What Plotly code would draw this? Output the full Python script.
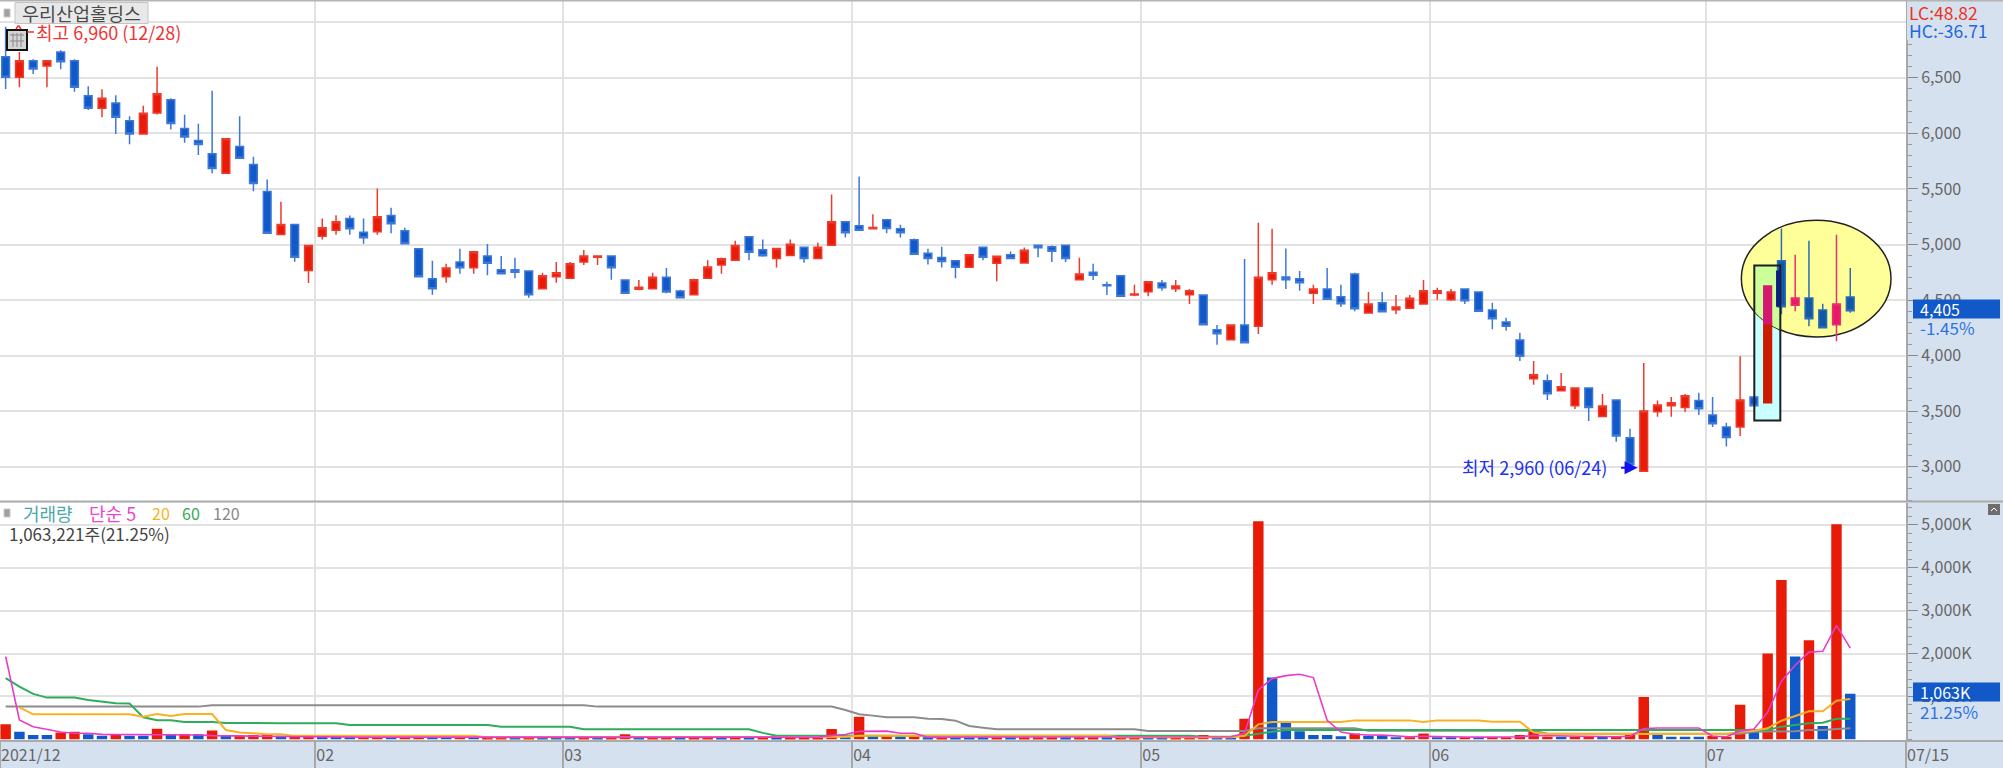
import numpy as np
import plotly.graph_objects as go

W, H = 2003, 768
FONT = "Noto Sans CJK KR"
RED, BLUE = "#E81A08", "#1158C8"
RED_LINE, BLUE_LINE = "#EE3A2A", "#3C78D8"
PANEL = "#D6E1EF"
GRID = "#E2E2E2"

open_p = [
 6690,6505,6655,6607,6733,6655,6340,6226,6274,6115,
 5995,6184,6304,6045,5937,5817,5642,5883,5720,5477,
 5090,5180,4766,5075,5129,5234,5110,5116,5261,5125,
 4963,4693,4711,4843,4792,4897,4774,4774,4762,4603,
 4711,4696,4843,4885,4897,4681,4597,4603,4705,4582,
 4549,4696,4816,4859,5069,4952,4874,4901,4976,4874,
 4994,5204,5168,5141,5222,5141,5042,4922,4883,4853,
 4796,4976,4832,4907,4834,4994,4979,4994,4684,4750,
 4639,4720,4546,4576,4654,4603,4549,4546,4234,4144,
 4276,4264,4684,4708,4693,4561,4600,4531,4735,4384,
 4477,4414,4426,4465,4561,4504,4600,4573,4411,4303,
 4141,3792,3774,3684,3549,3708,3453,3600,3261,2960,
 3495,3549,3534,3597,3465,3357,3357,3627,3576,4855,
 4453,4519,4411,4279,4528]
close_p = [
 6505,6655,6580,6655,6646,6415,6226,6316,6145,5995,
 6181,6357,6090,5967,5901,5684,5952,5777,5550,5102,
 5180,4886,4991,5150,5204,5143,5062,5249,5186,5008,
 4711,4603,4789,4792,4936,4831,4738,4750,4549,4720,
 4747,4828,4897,4897,4792,4561,4615,4705,4573,4522,
 4684,4798,4871,4991,4931,4898,4964,5003,4874,4976,
 5204,5105,5129,5153,5144,5105,4913,4874,4847,4796,
 4907,4886,4895,4874,4949,4970,4940,4874,4735,4723,
 4630,4534,4555,4666,4612,4627,4585,4279,4198,4276,
 4117,4705,4747,4684,4657,4600,4507,4468,4423,4465,
 4396,4438,4516,4585,4585,4573,4495,4399,4333,4264,
 3994,3828,3657,3720,3708,3534,3546,3276,3021,3501,
 3555,3576,3639,3522,3387,3264,3600,3549,4627,4441,
 4519,4333,4252,4465,4405]
high_p = [
 6960,6733,6667,6655,6748,6667,6424,6397,6343,6154,
 6250,6601,6316,6168,6087,6384,5952,6154,5790,5585,
 5384,5180,4991,5234,5264,5261,5234,5504,5330,5152,
 4963,4855,4828,4963,4936,5005,4897,4882,4762,4747,
 4843,4843,4951,4903,4897,4681,4681,4747,4789,4594,
 4693,4859,4883,5033,5069,5045,4964,5045,4976,5015,
 5450,5204,5612,5273,5222,5177,5054,4961,4979,4853,
 4907,4976,4895,4937,4973,4994,4991,4994,4882,4828,
 4666,4720,4639,4666,4681,4681,4600,4546,4276,4276,
 4870,5195,5141,4964,4762,4639,4789,4639,4747,4573,
 4573,4546,4546,4681,4612,4600,4600,4573,4477,4342,
 4207,3952,3831,3843,3708,3708,3654,3600,3342,3934,
 3597,3627,3654,3666,3627,3396,3994,3627,4627,5144,
 4909,5033,4468,5087,4789]
low_p = [
 6400,6415,6535,6415,6577,6376,6211,6145,5995,5902,
 5995,6171,6036,5916,5805,5642,5642,5777,5480,5102,
 5090,4844,4654,5045,5087,5089,5008,5089,5101,5008,
 4711,4549,4657,4738,4738,4723,4738,4696,4522,4603,
 4657,4696,4816,4816,4684,4561,4588,4603,4561,4522,
 4549,4696,4738,4859,4859,4889,4793,4901,4835,4874,
 4994,5063,5129,5141,5102,5063,4913,4820,4793,4696,
 4796,4859,4669,4874,4834,4885,4843,4843,4684,4681,
 4546,4534,4534,4534,4585,4573,4465,4279,4099,4144,
 4117,4195,4639,4600,4585,4465,4507,4438,4399,4384,
 4396,4372,4426,4465,4504,4492,4465,4399,4237,4225,
 3952,3738,3600,3684,3519,3411,3453,3225,2960,2960,
 3450,3450,3492,3465,3357,3183,3276,3549,3576,4372,
 4399,4264,4252,4129,4387]

volume_k = [
 348,177,100,100,160,177,115,85,115,85,
 85,247,115,115,115,208,85,85,100,115,
 85,75,75,68,68,55,55,55,55,50,
 50,50,50,50,50,45,45,45,45,45,
 45,45,45,45,45,115,45,45,45,45,
 45,45,45,45,45,45,45,45,45,45,
 240,50,528,85,85,85,85,45,45,45,
 45,45,45,45,45,45,45,45,45,45,
 45,45,45,45,45,45,45,100,40,40,
 480,5085,1439,387,185,100,100,70,138,85,
 85,50,50,138,50,50,50,50,50,50,
 100,185,60,60,60,60,60,60,130,988,
 130,60,60,60,85,60,808,185,1999,3713,
 1929,2311,309,5014,1063]
volume_dir = list(
 "rbbbrrbbrb" "brbrbrbrrr" "brrbbbrrbr" "rbbrbrrbrb"
 "bbrbrrbrrb" "rrbrbrbrrr" "rbrbrbrbrb" "bbrbrrrbrr"
 "brrbbrrrbb" "rrbbbbbbrb" "bbrrbbrbrr" "rrrbrrbrrr"
 "bbbbrrrbrr" "brbrb")
ma5 = [
 1930,450,294,232,170,140,140,115,115,100,
 100,115,115,115,100,85,85,85,75,70,
 65,60,60,55,55,50,50,50,50,50,
 50,50,50,50,50,50,50,50,50,50,
 50,50,50,50,50,62,62,62,62,62,
 50,50,50,50,50,50,50,50,50,50,
 85,110,185,190,190,140,140,50,50,50,
 50,50,50,50,50,50,50,50,50,50,
 50,50,50,50,50,50,50,60,60,60,
 138,1150,1415,1485,1515,1439,442,168,119,99,
 98,85,60,70,70,60,55,50,50,50,
 60,90,85,80,70,70,60,60,70,250,
 262,262,262,262,70,60,190,240,627,1353,
 1727,2032,2052,2655,2125]
ma20 = [
 None,746,582,582,582,582,582,582,582,582,
 528,590,543,590,590,590,216,160,140,120,
 120,80,80,80,80,80,80,80,80,80,
 80,80,80,80,80,45,45,45,45,45,
 45,45,45,45,45,45,45,45,45,45,
 45,45,45,45,45,45,45,45,45,45,
 60,60,85,85,85,85,85,85,85,85,
 85,85,85,85,85,85,85,85,85,85,
 85,50,50,50,50,50,50,50,50,50,
 80,348,403,403,403,403,403,403,441,441,
 441,441,441,403,441,441,441,441,410,410,
 410,160,125,125,125,125,125,125,125,125,
 125,125,125,125,125,125,169,200,255,434,
 543,652,652,901,940]
ma60 = [
 1424,1229,1058,972,972,972,917,886,839,832,
 512,442,442,403,403,403,380,375,375,375,
 375,375,375,375,375,334,334,334,334,334,
 334,334,334,334,334,334,295,295,295,295,
 295,295,232,232,232,232,232,232,232,232,
 232,232,232,232,232,150,85,85,85,85,
 85,85,85,85,85,85,85,85,85,85,
 85,85,85,85,85,85,85,85,85,85,
 85,85,85,85,85,85,85,60,60,60,
 83,138,177,216,216,216,216,216,216,216,
 216,216,216,216,216,200,200,200,200,200,
 200,200,200,200,200,200,200,200,200,200,
 200,200,200,200,200,200,200,200,216,293,
 333,372,387,480,480]
ma120 = [
 762,762,762,762,762,762,762,762,762,762,
 762,762,762,762,762,795,795,795,795,795,
 795,795,795,795,795,795,795,795,795,795,
 795,795,795,795,795,795,795,795,795,795,
 795,795,795,762,762,762,762,762,762,762,
 762,762,762,762,762,762,762,762,762,762,
 762,684,583,552,513,513,513,480,474,435,
 310,271,232,232,232,232,232,232,232,232,
 232,232,232,193,193,193,193,193,193,193,
 193,255,255,255,255,255,255,255,255,200,
 200,200,200,200,200,200,200,200,200,200,
 200,200,130,130,130,130,130,130,130,130,
 130,130,130,130,130,130,130,177,177,177,
 190,216,216,240,255]

month_pos = [-0.41, 22.5, 40.5, 61.5, 82.5, 103.5, 123.5, 138.05]
month_lab = ["2021/12", "02", "03", "04", "05", "06", "07", "07/15"]
price_ticks = [3000, 3500, 4000, 4500, 5000, 5500, 6000, 6500, 7000]
price_text = ["3,000", "3,500", "4,000", "4,500", "5,000", "5,500", "6,000", "6,500", ""]
vol_ticks = [1000, 2000, 3000, 4000, 5000]
vol_text = ["1,000K", "2,000K", "3,000K", "4,000K", "5,000K"]

n = len(close_p)
idx = list(range(n))
px = lambda v: v / W
py = lambda v: 1 - v / H
BW = 0.2  # layout box gap


def candle(ids, color, line, o=None, h=None, l=None, c=None):
    o = o or [open_p[i] for i in ids]
    c = c or [close_p[i] for i in ids]
    h = h or [high_p[i] for i in ids]
    l = l or [low_p[i] for i in ids]
    side = dict(fillcolor=color, line=dict(color=line, width=1.5))
    return go.Candlestick(x=ids, open=o, high=h, low=l, close=c, increasing=side, decreasing=side,
                          xaxis="x", yaxis="y", whiskerwidth=0, hoverinfo="skip", showlegend=False)


def split_candle(ids, color_up, line_up, color_dn, line_dn):
    out = []
    up = [i for i in ids if close_p[i] >= open_p[i]]
    dn = [i for i in ids if close_p[i] < open_p[i]]
    if up:
        out.append(candle(up, color_up, line_up))
    if dn:
        out.append(candle(dn, color_dn, line_dn))
    return out


SPLIT_128 = 4290
traces = []
traces += split_candle(idx[:128], RED, RED_LINE, BLUE, BLUE_LINE)
traces += split_candle([129, 130, 131, 132, 133, 134], "#E8186C", "#E8306F", "#1258A8", "#2A6CB4")
traces.append(candle([128], "#CC1C00", "#CC1C00", o=[open_p[128]], c=[SPLIT_128], h=[SPLIT_128], l=[open_p[128]]))
traces.append(candle([128], "#D4186F", "#D4186F", o=[SPLIT_128], c=[close_p[128]], h=[close_p[128]], l=[SPLIT_128]))

traces.append(go.Bar(x=idx, y=volume_k, width=0.76, xaxis="x2", yaxis="y2", hoverinfo="skip", showlegend=False,
                     marker=dict(color=[RED if d == "r" else BLUE for d in volume_dir], line=dict(width=0))))
for series, col, lw in ((ma120, "#8C8C8C", 2), (ma60, "#2EAD5B", 2), (ma20, "#F9B122", 2), (ma5, "#E83CC8", 1.6)):
    traces.append(go.Scatter(x=idx, y=series, mode="lines", line=dict(color=col, width=lw, shape="linear"),
                             xaxis="x2", yaxis="y2", hoverinfo="skip", showlegend=False))

fig = go.Figure(traces)

# highlight marks (drawn in data coordinates)
EL_X0, EL_X1, EL_Y0, EL_Y1 = 126.09, 136.96, 4168, 5219
RC_X0, RC_X1, RC_Y0, RC_Y1 = 127.03, 128.92, 3417, 4811
cx, cy, a, b = (EL_X0 + EL_X1) / 2, (EL_Y0 + EL_Y1) / 2, (EL_X1 - EL_X0) / 2, (EL_Y1 - EL_Y0) / 2
xs = np.linspace(RC_X0, RC_X1, 25)
ys = cy - b * np.sqrt(1 - ((xs - cx) / a) ** 2)
overlap = "M %f,%f " % (RC_X0, RC_Y1) + " ".join("L %f,%f" % (x, y) for x, y in zip(xs, ys)) + " L %f,%f Z" % (RC_X1, RC_Y1)

shapes = [
    dict(type="rect", xref="x", yref="y", x0=RC_X0, x1=RC_X1, y0=RC_Y0, y1=RC_Y1, fillcolor="#C8FFFF",
         line=dict(width=0), layer="between"),
    dict(type="circle", xref="x", yref="y", x0=EL_X0, x1=EL_X1, y0=EL_Y0, y1=EL_Y1, fillcolor="#FFFF99",
         line=dict(color="#222222", width=1.5), layer="between"),
    dict(type="path", xref="x", yref="y", path=overlap, fillcolor="#CCFF99", line=dict(width=0), layer="between"),
    dict(type="rect", xref="x", yref="y", x0=RC_X0, x1=RC_X1, y0=RC_Y0, y1=RC_Y1, fillcolor="rgba(0,0,0,0)",
         line=dict(color="#1E1E1E", width=2), layer="above"),
    dict(type="rect", xref="x", yref="y", x0=129 - 0.39, x1=RC_X1, y0=close_p[129], y1=RC_Y1 - 45, fillcolor="#0A2080",
         line=dict(width=0), layer="above"),
]


def rect_px(x0, x1, y0, y1, fill, line=None, lw=1):
    return dict(type="rect", xref="paper", yref="paper", x0=px(x0), x1=px(x1), y0=py(y1), y1=py(y0),
                fillcolor=fill, line=dict(color=line or fill, width=lw if line else 0), layer="above")


def line_px(x0, x1, y0, y1, col, lw=1):
    return dict(type="line", xref="paper", yref="paper", x0=px(x0), x1=px(x1), y0=py(y0), y1=py(y1),
                line=dict(color=col, width=lw), layer="above")


shapes += [
    rect_px(1907, 2003, 1, 40, PANEL),
    line_px(0, W, 0.5, 0.5, "#B4B4B4", 2),
    line_px(0, W, 501.5, 501.5, "#ABABAB", 2),
    line_px(0, W, 741, 741, "#ABABAB", 2),
    rect_px(1913, 2000, 299.5, 318.5, BLUE),
    rect_px(1913, 2000, 682.5, 701.5, BLUE),
    # title button and small squares
    rect_px(15, 148, 2.5, 23.5, "#E8E8E8", "#C4C4C4", 1),
    rect_px(4, 10, 9, 17, "#A0A0A0", "#C8C8C8", 1),
    rect_px(4, 10, 509, 517, "#A0A0A0", "#C8C8C8", 1),
    # table icon
    rect_px(7, 27, 30, 50, "#D4D4D4", "#111111", 2),
    line_px(10, 24, 35, 35, "#8A8A8A", 1),
    line_px(10, 24, 41, 41, "#8A8A8A", 1),
    line_px(13, 13, 33, 47, "#8A8A8A", 1),
    line_px(17, 17, 33, 47, "#8A8A8A", 1),
    line_px(21, 21, 33, 47, "#8A8A8A", 1),
    # high marker
    line_px(27, 34, 32, 32, "#F03030", 1.5),
    line_px(16, 18.5, 29, 25.5, "#F03030", 1.5),
    line_px(18.5, 21, 25.5, 29, "#F03030", 1.5),
    # panel button
    rect_px(1988, 2000, 504, 515, "#6E6E6E"),
    line_px(1991, 1994, 511, 508, "#FFFFFF", 1),
    line_px(1994, 1997, 508, 511, "#FFFFFF", 1),
]


def label(text, x, y, color, size=16, anchor="left"):
    return dict(text=text, xref="paper", yref="paper", x=px(x), y=py(y), xanchor=anchor, yanchor="middle",
                showarrow=False, font=dict(family=FONT, size=size, color=color), align="left")


annotations = [
    label("우리산업홀딩스", 20, 13, "#4A4A4A", 18.5),
    label("최고 6,960 (12/28)", 34, 32, "#F03434", 18),
    label("LC:48.82", 1907, 12, "#EE3322", 17.5),
    label("HC:-36.71", 1907, 30, "#2266DD", 17.5),
    label("4,405", 1918, 309, "#FFFFFF", 16),
    label("-1.45%", 1918, 328, "#2F74E0", 17),
    label("1,063K", 1918, 692, "#FFFFFF", 16),
    label("21.25%", 1918, 711, "#2F74E0", 17),
    label("거래량", 21, 513, "#4BA8A8", 18),
    label("단순 5", 87, 513, "#EE44CC", 18),
    label("20", 150, 513, "#F9B122", 16),
    label("60", 180, 513, "#33AA55", 16),
    label("120", 211, 513, "#888888", 16),
    label("1,063,221주(21.25%)", 7, 533, "#444444", 17),
    label("최저 2,960 (06/24)", 1460, 467, "#2030F0", 18),
    dict(text=" ", xref="x", yref="y", x=118.55, y=2990, ax=-20, ay=0, axref="pixel", ayref="pixel", showarrow=True,
         arrowcolor="#1010F0", arrowwidth=2, arrowhead=2, arrowsize=1.3, standoff=0, startstandoff=0),
]

x_common = dict(range=[-0.41, 138.05], domain=[0, 1906 / W], tickmode="array", tickvals=month_pos,
                showgrid=True, gridcolor=GRID, gridwidth=2, zeroline=False, fixedrange=True)

fig.update_layout(
    width=W, height=H, autosize=False, margin=dict(l=0, r=0, t=0, b=0, pad=0, autoexpand=False),
    paper_bgcolor=PANEL, plot_bgcolor="#FFFFFF",
    font=dict(family=FONT, size=16, color="#666666"),
    boxgap=BW, barmode="overlay", showlegend=False, shapes=shapes, annotations=annotations,
    xaxis=dict(**x_common, anchor="y", ticks="", showticklabels=False, showline=False,
               rangeslider=dict(visible=False)),
    xaxis2=dict(**x_common, anchor="y2", matches="x", ticktext=month_lab, ticks="outside", ticklen=27, tickwidth=2,
                tickcolor="#A8A8A8", ticklabelposition="outside right", ticklabelstandoff=0,
                tickfont=dict(family=FONT, size=16, color="#666666"), showline=False,
                rangeslider=dict(visible=False)),
    yaxis=dict(domain=[py(501.5), 1], range=[2687, 7201], anchor="x", side="right", tickmode="array",
               tickvals=price_ticks, ticktext=price_text, showgrid=True, gridcolor=GRID, gridwidth=2,
               zeroline=False, fixedrange=True, showline=True, linecolor="#A8A8A8", linewidth=2,
               ticks="outside", ticklen=10, tickwidth=1, tickcolor="#888888",
               tickfont=dict(family=FONT, size=16, color="#666666"),
               minor=dict(dtick=100, ticks="outside", ticklen=4, tickcolor="#999999", tickwidth=1, showgrid=False)),
    yaxis2=dict(domain=[py(740.5), py(502.5)], range=[-28, 5521], anchor="x2", side="right", tickmode="array",
                tickvals=vol_ticks, ticktext=vol_text, showgrid=True, gridcolor=GRID, gridwidth=2,
                zeroline=False, fixedrange=True, showline=True, linecolor="#A8A8A8", linewidth=2,
                ticks="outside", ticklen=10, tickwidth=1, tickcolor="#888888",
                tickfont=dict(family=FONT, size=16, color="#666666"),
                minor=dict(dtick=200, ticks="outside", ticklen=4, tickcolor="#999999", tickwidth=1, showgrid=False)),
)

fig.write_html("out.html", config={"displayModeBar": False},
               post_script="document.body.style.margin='0';document.documentElement.style.overflow='hidden';")
